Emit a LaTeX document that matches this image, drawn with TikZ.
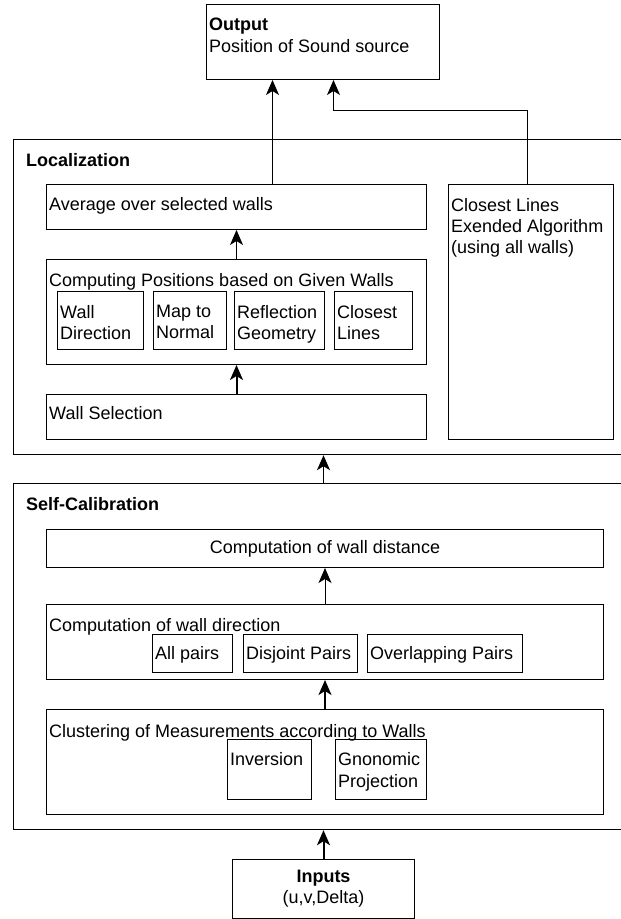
\documentclass[tikz,border=0pt]{standalone}
\usepackage{fontspec}
\setmainfont{Liberation Sans}
\usetikzlibrary{arrows.meta,positioning,calc}

\begin{document}
\begin{tikzpicture}[x=1pt,y=-1pt,
    every node/.style={font=\fontsize{18}{21.3}\selectfont},
    blk/.style={draw, line width=1pt, inner sep=0pt, anchor=north west},
    frm/.style={draw, line width=1.2pt, inner sep=0pt, anchor=north west},
    ttl/.style={anchor=north west, inner sep=0pt, align=left, xshift=3pt, yshift=-#1},
    ttl/.default=14pt,
    frmttl/.style={anchor=north west, inner sep=0pt, xshift=13pt, yshift=-14pt, font=\fontsize{18}{21.3}\selectfont\bfseries},
    flow/.style={-{Stealth[length=15pt,width=13pt,inset=4pt]}, line width=1pt},
    bold flow/.style={flow, line width=2pt}]
  \useasboundingbox (0,0) rectangle (621,919);
  \clip (0,0) rectangle (621,919);

  % output
  \node[blk, minimum width=233pt, minimum height=75pt,
        label={[ttl]north west:{\textbf{Output}\\Position of Sound source}}] (out) at (206,4) {};

  % localization part
  \node[frm, minimum width=640pt, minimum height=315pt,
        label={[frmttl]north west:Localization}] (loc) at (13,139) {};
  \node[blk, minimum width=380pt, minimum height=45pt,
        label={[ttl=13.3pt]north west:Average over selected walls}] (avg) at (46,184) {};
  \node[blk, minimum width=165pt, minimum height=255pt,
        label={[ttl]north west:{Closest Lines\\Exended Algorithm\\(using all walls)}}] (cle) at (448,184) {};
  \node[blk, minimum width=380pt, minimum height=105pt,
        label={[ttl]north west:Computing Positions based on Given Walls}] (comp) at (46,259) {};
  \node[blk, minimum width=86pt, minimum height=58pt,
        label={[ttl]north west:{Wall\\Direction}}] (wdir) at (57,291) {};
  \node[blk, minimum width=73pt, minimum height=58pt,
        label={[ttl]north west:{Map to\\Normal}}] (mapn) at (153,291) {};
  \node[blk, minimum width=90pt, minimum height=58pt,
        label={[ttl]north west:{Reflection\\Geometry}}] (refl) at (234,291) {};
  \node[blk, minimum width=78pt, minimum height=58pt,
        label={[ttl]north west:{Closest\\Lines}}] (clsl) at (334,291) {};
  \node[blk, minimum width=380pt, minimum height=45pt,
        label={[ttl=12.7pt]north west:Wall Selection}] (wsel) at (46,394) {};

  % self-calibration part
  \node[frm, minimum width=640pt, minimum height=346pt,
        label={[frmttl]north west:Self-Calibration}] (cal) at (13,483) {};
  \node[blk, minimum width=557pt, minimum height=38pt] (wdist) at (46,529) {Computation of wall distance};
  \node[blk, minimum width=557pt, minimum height=75pt,
        label={[ttl]north west:Computation of wall direction}] (wdirc) at (46,604) {};
  \node[blk, minimum width=80pt, minimum height=38pt,
        label={[ttl=12.7pt]north west:All pairs}] (allp) at (152,634) {};
  \node[blk, minimum width=114pt, minimum height=38pt,
        label={[ttl=12.7pt]north west:Disjoint Pairs}] (disj) at (243,634) {};
  \node[blk, minimum width=155pt, minimum height=38pt,
        label={[ttl=12.7pt]north west:Overlapping Pairs}] (ovlp) at (367,634) {};
  \node[blk, minimum width=557pt, minimum height=105pt,
        label={[ttl=15pt]north west:Clustering of Measurements according to Walls}] (clus) at (46,709) {};
  \node[blk, minimum width=84pt, minimum height=60pt,
        label={[ttl=13.7pt]north west:Inversion}] (inv) at (227,739) {};
  \node[blk, minimum width=91pt, minimum height=60pt,
        label={[ttl=13.7pt]north west:{Gnonomic\\Projection}}] (gnom) at (335,739) {};

  % inputs
  \node[blk, minimum width=182pt, minimum height=59pt, align=center] (inp) at (232,859)
        {\textbf{Inputs}\\(u,v,Delta)};

  % connections
  \draw[flow] ([xshift=36pt]avg.north) -- ([xshift=36pt]avg.north |- out.south);
  \draw[flow] ([xshift=-3.5pt]cle.north) |- ([xshift=10.5pt,yshift=-30pt]out.south)
              -- ([xshift=10.5pt]out.south);
  \draw[flow] (comp) -- (avg);
  \draw[bold flow] (wsel) -- (comp);
  \draw[flow, line width=1.3pt] (cal.north -| inp) -- (loc.south -| inp);
  \draw[flow] (wdirc) -- (wdist);
  \draw[bold flow] (clus) -- (wdirc);
  \draw[bold flow] (inp) -- (cal.south -| inp);
\end{tikzpicture}
\end{document}
